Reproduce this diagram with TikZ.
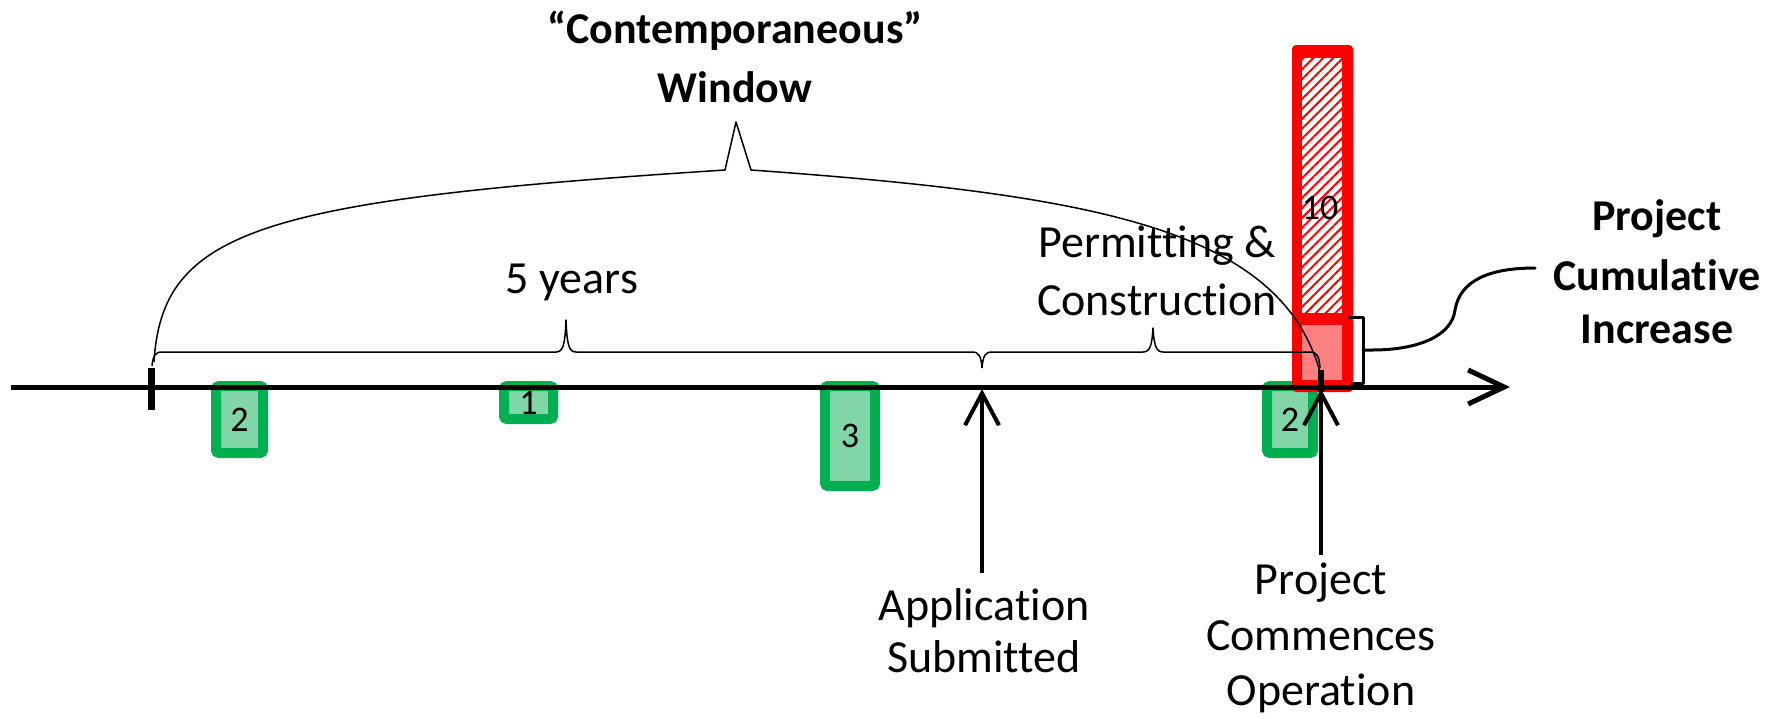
\documentclass[tikz,border=0pt]{standalone}
\usepackage{fontspec}
\setmainfont{Carlito}[Ligatures={NoCommon,NoContextual}, Contextuals=NoAlternate, RawFeature={-liga;-clig;-calt}]
\usetikzlibrary{arrows.meta,patterns.meta}
\definecolor{gbord}{HTML}{00B050}
\definecolor{gfill}{HTML}{80D6A6}
\definecolor{rbord}{HTML}{FF0000}
\definecolor{rfill}{HTML}{FF8080}
\begin{document}
\begin{tikzpicture}[x=0.5pt,y=-0.5pt,
  greenbox/.style={draw=gbord, fill=gfill, line width=5pt, rounded corners=1.5pt, inner sep=0pt,
    font=\fontsize{18}{20}\selectfont},
  numlabel/.style={font=\fontsize{18}{20}\selectfont, inner sep=0pt},
  txt/.style={font=\fontsize{23}{27}\selectfont, inner sep=0pt, anchor=base},
  btxt/.style={font=\bfseries\fontsize{22}{26}\selectfont, inner sep=0pt, anchor=base},
  bracelne/.style={line width=0.75pt, line join=round},
  axisline/.style={line width=2.5pt, -{Straight Barb[length=18pt,width=17pt,line width=2.5pt]}},
  evarrow/.style={line width=2pt, -{Straight Barb[length=16pt,width=17pt,line width=2pt]}},
  thick bracket/.style={line width=1.5pt, line join=round, line cap=round}]
\useasboundingbox (0,0) rectangle (1786,718);

% green boxes
\node[greenbox, minimum width=23.5pt, minimum height=33.5pt] (g1) at (239.5,419.5) {2};
\node[greenbox, minimum width=24.5pt, minimum height=16.5pt] (g2) at (528.5,402.5) {1};
\node[greenbox, minimum width=25pt, minimum height=50pt] (g3) at (850,436) {3};
\node[greenbox, minimum width=23pt, minimum height=33.5pt] (g4) at (1290,419.5) {2};

% red bar
\fill[rbord, rounded corners=2pt] (1292,45) rectangle (1353,392);
\fill[white] (1302,58) rectangle (1342,313);
\fill[pattern={Lines[angle=45,distance=3.5pt,line width=1pt]}, pattern color=rbord] (1302,58) rectangle (1342,313);
\fill[rfill] (1302,325) rectangle (1342,380);
\node[numlabel] (ten) at (1320,208) {10};

% braces
\draw[bracelne] (152,366) .. controls (153,356) and (155,352) .. (162,352) -- (556,352)
  .. controls (563,352) and (565,345) .. (566,320) .. controls (567,345) and (569,352) .. (576,352)
  -- (972,352) .. controls (979,352) and (981,356) .. (982,368);
\draw[bracelne] (982,368) .. controls (983,356) and (985,352) .. (992,352) -- (1143,352)
  .. controls (1150,352) and (1152,345) .. (1153,328) .. controls (1154,345) and (1156,352) .. (1163,352)
  -- (1310,352) .. controls (1317,352) and (1319,356) .. (1320,368);
\draw[bracelne] (154,362) .. controls (162,230) and (260,200) .. (725,170) -- (736,122) -- (751,170)
  .. controls (1100,195) and (1280,230) .. (1320,372);

% axis
\coordinate (axL) at (11,387);
\coordinate (axR) at (1510,387);
\draw[axisline] (axL) -- (axR);
\draw[line width=3.5pt] (151,368) -- (151,410);
\draw[line width=3pt] (1321,370) -- (1321,392);

% event arrows
\coordinate (appBot) at (982,573);
\coordinate (appTip) at (982,389);
\coordinate (opBot) at (1321,555);
\coordinate (opTip) at (1321,389);
\draw[evarrow] (appBot) -- (appTip);
\draw[evarrow] (opBot) -- (opTip);

% bracket and callout
\draw[thick bracket] (1349,317) -- (1363,317) -- (1363,383) -- (1352,383);
\coordinate (brk) at (1363,350);
\coordinate (callEnd) at (1535,268);
\draw[thick bracket] (brk) -- (1372,350) .. controls (1420,350) and (1452,335) .. (1455,310)
  .. controls (1460,280) and (1490,268) .. (callEnd);

% texts
\node[btxt] (cw1) at (735,43) {“Contemporaneous”};
\node[btxt] (cw2) at (735,102) {Window};
\node[txt] (fy) at (572,293) {5 years};
\node[txt] (pc1) at (1157,257) {Permitting \&};
\node[txt] (pc2) at (1157,315) {Construction};
\node[btxt] (pi1) at (1657,230) {Project};
\node[btxt] (pi2) at (1657,290) {Cumulative};
\node[btxt] (pi3) at (1657,343) {Increase};
\node[txt] (as1) at (984,620) {Application};
\node[txt] (as2) at (984,672) {Submitted};
\node[txt] (po1) at (1321,594) {Project};
\node[txt] (po2) at (1321,650) {Commences};
\node[txt] (po3) at (1321,705) {Operation};
\end{tikzpicture}
\end{document}
